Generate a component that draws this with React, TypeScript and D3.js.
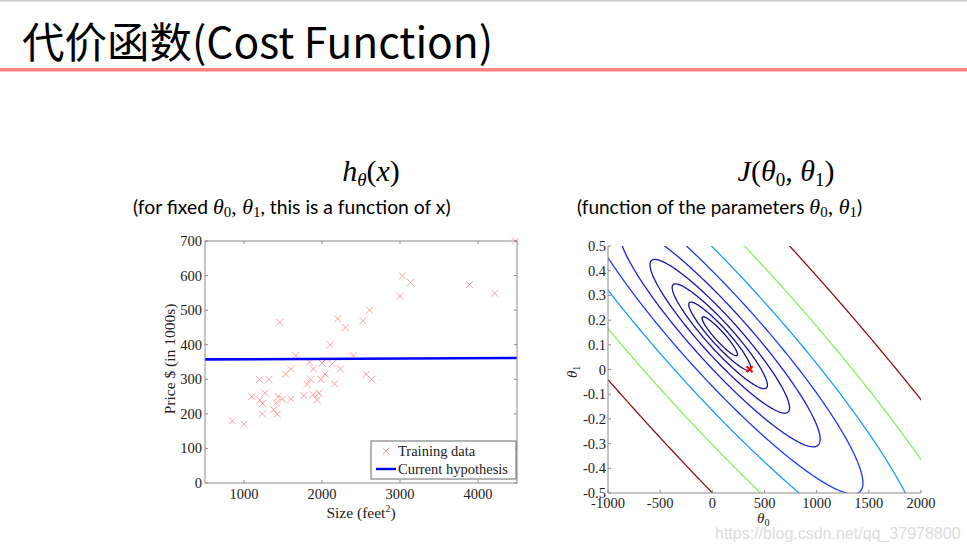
import React, { useMemo } from 'react';
import * as d3 from 'd3';

// training set: size (feet^2) and price (in 1000s)
const SIZES = [2104, 1600, 2400, 1416, 3000, 1985, 1534, 1427, 1380, 1494, 1940, 2000, 1890, 4478, 1268, 2300,
  1320, 1236, 2609, 3031, 1767, 1888, 1604, 1962, 3890, 1100, 1458, 2526, 2200, 2637, 1839, 1000, 2040, 3137,
  1811, 1437, 1239, 2132, 4215, 2162, 1664, 2238, 2567, 1200, 852, 1852, 1203];
const PRICES = [399.9, 329.9, 369, 232, 539.9, 299.9, 314.9, 199, 212, 242.5, 240, 347, 330, 699.9, 259.9, 449.9,
  299.9, 199.9, 500, 599, 252.9, 255, 242.9, 259.9, 573.9, 249.9, 464.5, 469, 475, 299.9, 349.9, 169.9, 314.9, 579.9,
  285.9, 249.9, 229.9, 345, 549, 287, 368.5, 329.9, 314, 299, 179.9, 299.9, 239.5];

// current hypothesis [theta0, theta1]
const HYPOTHESIS = [357, 0.001];

const LEFT_X_TICKS = [1000, 2000, 3000, 4000];
const LEFT_Y_TICKS = [0, 100, 200, 300, 400, 500, 600, 700];
const RIGHT_X_TICKS = [-1000, -500, 0, 500, 1000, 1500, 2000];
const RIGHT_Y_TICKS = [-0.5, -0.4, -0.3, -0.2, -0.1, 0, 0.1, 0.2, 0.3, 0.4, 0.5];

const CONTOUR_LEVELS = [4000, 8000, 16000, 32000, 64000, 128000, 256000, 512000, 1024000];
const CONTOUR_COLORS = ['#10108a', '#12128f', '#141499', '#1616a8', '#1a22c8', '#1e3cf0', '#1a9cff', '#88f060', '#8b1212'];

const SERIF = '"Liberation Serif", "DejaVu Serif", serif';
const SANS = 'Lato, "Open Sans", sans-serif';
const AXIS = '#8c8c8c';
const TICK_FS = 14.5;

const cost = (t0: number, t1: number) => {
  let s = 0;
  for (let i = 0; i < SIZES.length; i++) {
    const r = t0 + t1 * SIZES[i] - PRICES[i];
    s += r * r;
  }
  return s / (2 * SIZES.length);
};

const App: React.FC = () => {
  const xL = d3.scaleLinear([500, 4500], [205, 517]);
  const yL = d3.scaleLinear([0, 700], [483, 241]);
  const xR = d3.scaleLinear([-1000, 2000], [608, 921]);
  const yR = d3.scaleLinear([-0.5, 0.5], [493, 246]);

  const contourPaths = useMemo(() => {
    // grid a bit wider than the axes so the outer borders get clipped away
    const nx = 321, ny = 225;
    const g0 = d3.scaleLinear([0.5, nx - 0.5], [-1100, 2100]);
    const g1 = d3.scaleLinear([0.5, ny - 0.5], [-0.56, 0.56]);
    const values = new Array(nx * ny);
    for (let j = 0; j < ny; j++) {
      for (let i = 0; i < nx; i++) values[j * nx + i] = cost(g0(i + 0.5), g1(j + 0.5));
    }
    const polys = d3.contours().size([nx, ny]).thresholds(CONTOUR_LEVELS)(values);
    const proj = d3.geoTransform({
      point(x: number, y: number) {
        this.stream.point(xR(g0(x)), yR(g1(y)));
      },
    });
    const path = d3.geoPath(proj);
    return polys.map((p, i) => ({ d: path(p as any) || '', color: CONTOUR_COLORS[i] }));
  }, []);

  const line = d3.line<number>().x(d => xL(d)).y(d => yL(HYPOTHESIS[0] + HYPOTHESIS[1] * d));

  const cross = (cx: number, cy: number, r: number) =>
    `M${cx - r},${cy - r}L${cx + r},${cy + r}M${cx - r},${cy + r}L${cx + r},${cy - r}`;

  const fmtR = (v: number) => String(+v.toFixed(1));

  return (
    <svg width={967} height={551} style={{ position: 'absolute', left: 0, top: 0, background: '#fff' }}>
      <defs>
        <clipPath id="rclip">
          <rect x={608} y={246} width={313} height={247} />
        </clipPath>
      </defs>
      <rect x={0} y={0} width={967} height={1.5} fill="#c8c8c8" />
      <text x={22} y={58} fontFamily='"Noto Sans CJK SC", "Noto Sans", sans-serif' fontSize={42.5} fill="#000">
        代价函数(Cost Function)
      </text>
      <rect x={0} y={68} width={967} height={3.5} fill="#ff8080" />

      {/* left headings */}
      <text x={371} y={181} textAnchor="middle" fontFamily={SERIF} fontSize={30} fill="#000">
        <tspan fontStyle="italic">h</tspan>
        <tspan fontStyle="italic" fontSize={19} dy={5}>θ</tspan>
        <tspan dy={-5}>(</tspan>
        <tspan fontStyle="italic">x</tspan>
        <tspan>)</tspan>
      </text>
      <text x={133} y={214} fontFamily={SANS} fontSize={19.3} fill="#000">
        <tspan>(for fixed </tspan>
        <tspan fontFamily={SERIF} fontStyle="italic" fontSize={22}>θ</tspan>
        <tspan fontFamily={SERIF} fontSize={15} dy={3}>0</tspan>
        <tspan fontFamily={SERIF} fontSize={22} dy={-3}>, </tspan>
        <tspan fontFamily={SERIF} fontStyle="italic" fontSize={22}>θ</tspan>
        <tspan fontFamily={SERIF} fontSize={15} dy={3}>1</tspan>
        <tspan dy={-3}>, this is a function of x)</tspan>
      </text>

      {/* right headings */}
      <text x={786} y={181} textAnchor="middle" fontFamily={SERIF} fontSize={30} fill="#000">
        <tspan fontStyle="italic">J</tspan>
        <tspan>(</tspan>
        <tspan fontStyle="italic">θ</tspan>
        <tspan fontSize={19} dy={5}>0</tspan>
        <tspan dy={-5}>, </tspan>
        <tspan fontStyle="italic">θ</tspan>
        <tspan fontSize={19} dy={5}>1</tspan>
        <tspan dy={-5}>)</tspan>
      </text>
      <text x={577} y={214} fontFamily={SANS} fontSize={19} fill="#000">
        <tspan>(function of the parameters </tspan>
        <tspan fontFamily={SERIF} fontStyle="italic" fontSize={22}>θ</tspan>
        <tspan fontFamily={SERIF} fontSize={15} dy={3}>0</tspan>
        <tspan fontFamily={SERIF} fontSize={22} dy={-3}>, </tspan>
        <tspan fontFamily={SERIF} fontStyle="italic" fontSize={22}>θ</tspan>
        <tspan fontFamily={SERIF} fontSize={15} dy={3}>1</tspan>
        <tspan dy={-3}>)</tspan>
      </text>

      {/* ---------- left plot ---------- */}
      <g>
        {SIZES.map((s, i) => (
          <path key={i} d={cross(xL(s), yL(PRICES[i]), 3.5)} stroke="#ff8080" strokeOpacity={0.75} strokeWidth={1} />
        ))}
        <path d={line([500, 4500]) || ''} stroke="#0000ff" strokeWidth={2.6} fill="none" />
        <rect x={205} y={241} width={312} height={242} fill="none" stroke={AXIS} strokeWidth={1} />
        {LEFT_X_TICKS.map(t => (
          <g key={t}>
            <line x1={xL(t)} x2={xL(t)} y1={483} y2={480} stroke={AXIS} />
            <line x1={xL(t)} x2={xL(t)} y1={241} y2={244} stroke={AXIS} />
            <text x={xL(t)} y={499} textAnchor="middle" fontFamily={SERIF} fontSize={TICK_FS} fill="#222">{t}</text>
          </g>
        ))}
        {LEFT_Y_TICKS.map(t => (
          <g key={t}>
            <line x1={205} x2={208} y1={yL(t)} y2={yL(t)} stroke={AXIS} />
            <line x1={517} x2={514} y1={yL(t)} y2={yL(t)} stroke={AXIS} />
            <text x={202} y={yL(t) + 5} textAnchor="end" fontFamily={SERIF} fontSize={TICK_FS} fill="#222">{t}</text>
          </g>
        ))}
        <text x={361} y={518} textAnchor="middle" fontFamily={SERIF} fontSize={15.5} fill="#222">
          Size (feet<tspan fontSize={10} dy={-6}>2</tspan><tspan dy={6}>)</tspan>
        </text>
        <text transform="translate(175,359) rotate(-90)" textAnchor="middle" fontFamily={SERIF} fontSize={15.5} fill="#222">
          Price $ (in 1000s)
        </text>
        {/* legend */}
        <rect x={371} y={441} width={145} height={38} fill="#fff" stroke="#444" strokeWidth={0.8} />
        <path d={cross(386, 451, 3.5)} stroke="#ff8080" strokeOpacity={0.75} strokeWidth={1} />
        <text x={398} y={456} fontFamily={SERIF} fontSize={14.5} fill="#222">Training data</text>
        <line x1={376} x2={396} y1={469} y2={469} stroke="#0000ff" strokeWidth={2.4} />
        <text x={398} y={474} fontFamily={SERIF} fontSize={14.5} fill="#222">Current hypothesis</text>
      </g>

      {/* ---------- right plot ---------- */}
      <g clipPath="url(#rclip)">
        {contourPaths.map((c, i) => (
          <path key={i} d={c.d} fill="none" stroke={c.color} strokeWidth={1.3} />
        ))}
      </g>
      <path d={cross(xR(HYPOTHESIS[0]), yR(HYPOTHESIS[1]), 3)} stroke="#ff0000" strokeWidth={2} />
      <line x1={608} x2={608} y1={246} y2={493} stroke={AXIS} />
      <line x1={608} x2={921} y1={493} y2={493} stroke={AXIS} />
      {RIGHT_X_TICKS.map(t => (
        <g key={t}>
          <line x1={xR(t)} x2={xR(t)} y1={493} y2={490} stroke={AXIS} />
          <text x={xR(t)} y={508} textAnchor="middle" fontFamily={SERIF} fontSize={TICK_FS} fill="#222">{t}</text>
        </g>
      ))}
      {RIGHT_Y_TICKS.map(t => (
        <g key={t}>
          <line x1={608} x2={611} y1={yR(t)} y2={yR(t)} stroke={AXIS} />
          <text x={606} y={yR(t) + 5} textAnchor="end" fontFamily={SERIF} fontSize={TICK_FS} fill="#222">{fmtR(t)}</text>
        </g>
      ))}
      <text x={757} y={523} fontFamily={SERIF} fontSize={15} fill="#222">
        <tspan fontStyle="italic">θ</tspan><tspan fontSize={10} dy={3}>0</tspan>
      </text>
      <text transform="translate(577,378) rotate(-90)" fontFamily={SERIF} fontSize={15} fill="#222">
        <tspan fontStyle="italic">θ</tspan><tspan fontSize={10} dy={3}>1</tspan>
      </text>

      <text x={715} y={539} fontFamily='"Liberation Sans", Arial, sans-serif' fontSize={16} fill="#dcdcdc">
        https://blog.csdn.net/qq_37978800
      </text>
    </svg>
  );
};

export default App;
